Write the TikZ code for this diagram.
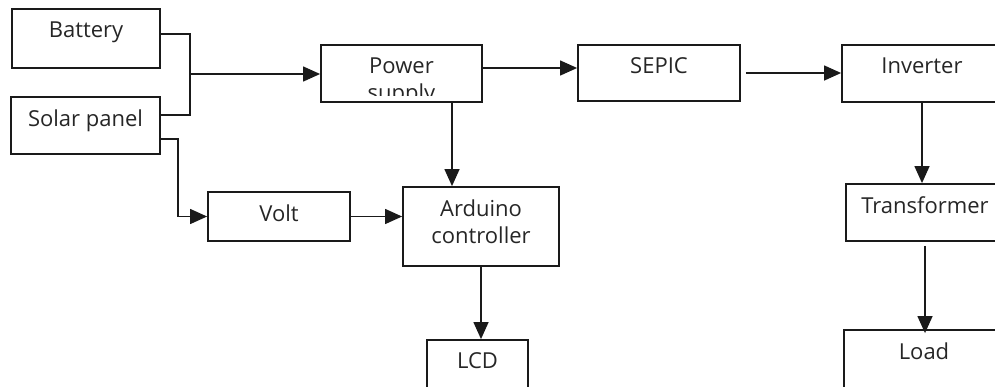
\documentclass[tikz,border=0pt]{standalone}
\usepackage{fontspec}
\setsansfont{Open Sans}
\usepackage{xcolor}
\definecolor{lineBlack}{HTML}{1A1A1A}
\definecolor{labelText}{HTML}{262626}
\usepackage{tikz}
\usetikzlibrary{
    arrows.meta,
    positioning,
    calc
}
\tikzset{
    % Base style for all blocks
    block base/.style={
        rectangle,
        draw=lineBlack,
        line width=1.8pt,
        inner sep=0pt,
    },
    % Plain rectangular block, text sits near the top
    block/.style={
        block base,
        minimum width=150pt,
        minimum height=57pt,
    },
    % Text placed at the top of a block
    block text/.style={
        font=\sffamily\fontsize{22}{27}\selectfont,
        text=labelText,
        align=center,
        anchor=north,
        inner sep=0pt,
        yshift=-13pt,
    },
    % Straight arrow with a solid triangle head
    arrow/.style={
        -{Triangle[length=17pt, width=15pt]},
        line width=1.3pt,
        draw=lineBlack,
    },
    % Plain line without head
    wire/.style={
        line width=1.3pt,
        draw=lineBlack,
    },
}

\begin{document}
\begin{tikzpicture}[x=1pt, y=-1pt]
    \useasboundingbox (0,0) rectangle (995,386);
    \clip (0,0) rectangle (995,386);

    \node (bat) [block, minimum width=148pt, minimum height=59pt,
        label={[block text]north:Battery}] at (86,38.5) {};
    \node (sol) [block, minimum width=149pt,
        label={[block text]north:Solar panel}] at (85.5,125.5) {};
    \node (volt) [block, minimum width=142pt, minimum height=49pt,
        label={[block text]north:Volt}] at (279,216.5) {};
    \node (psu) [block, minimum width=161pt] at (401.5,73.5) {};
    \node (sepic) [block, minimum width=162pt, minimum height=56pt,
        label={[block text]north:SEPIC}] at (659,73) {};
    \node (inv) [block, minimum width=160pt,
        label={[block text]north:Inverter}] at (922,73.5) {};
    \node (ard) [block, minimum width=156pt, minimum height=79pt,
        label={[block text]north:Arduino\\controller}] at (481,226.5) {};
    \node (lcd) [block, minimum width=101pt, minimum height=52pt,
        label={[block text]north:LCD}] at (477.5,366) {};
    \node (trf) [block, minimum width=158pt,
        label={[block text]north:Transformer}] at (925,212.5) {};
    \node (load) [block, minimum width=160pt, minimum height=60pt,
        label={[block text]north:Load}] at (924,360) {};

    % power supply text runs past the bottom of its box
    \begin{scope}
        \clip (psu.north west) rectangle ([yshift=7pt]psu.south east);
        \node (psu text) [block text] at (psu.north) {Power\\supply};
    \end{scope}

    \coordinate (join) at (190,74);
    \draw [wire] ([yshift=4.5pt]bat.east) -| (join);
    \draw [wire] ([yshift=10.5pt]sol.east) -| (join);
    \draw [arrow] (join) -- (join -| psu.west);
    \draw [arrow] ([yshift=-13.5pt]sol.east) -- ++(17,0) |- (volt.west);

    \draw [arrow] ([yshift=5.5pt]psu.east) -- ([yshift=5.5pt]psu.east -| sepic.west);
    \draw [arrow] ([xshift=5pt]sepic.east) -- (sepic.east -| inv.west);
    \draw [arrow] ([xshift=50.5pt]psu.south) -- ([xshift=-29pt]ard.north);
    \draw [arrow] (volt.east) -- (volt.east -| ard.west);
    \draw [arrow] (ard.south) -- (ard.south |- lcd.north);

    \draw [arrow] (inv.south) -- (inv.south |- trf.north);
    \draw [arrow] ([yshift=-4pt]trf.south) -- ([yshift=-4pt]trf.south |- load.north);
\end{tikzpicture}
\end{document}
